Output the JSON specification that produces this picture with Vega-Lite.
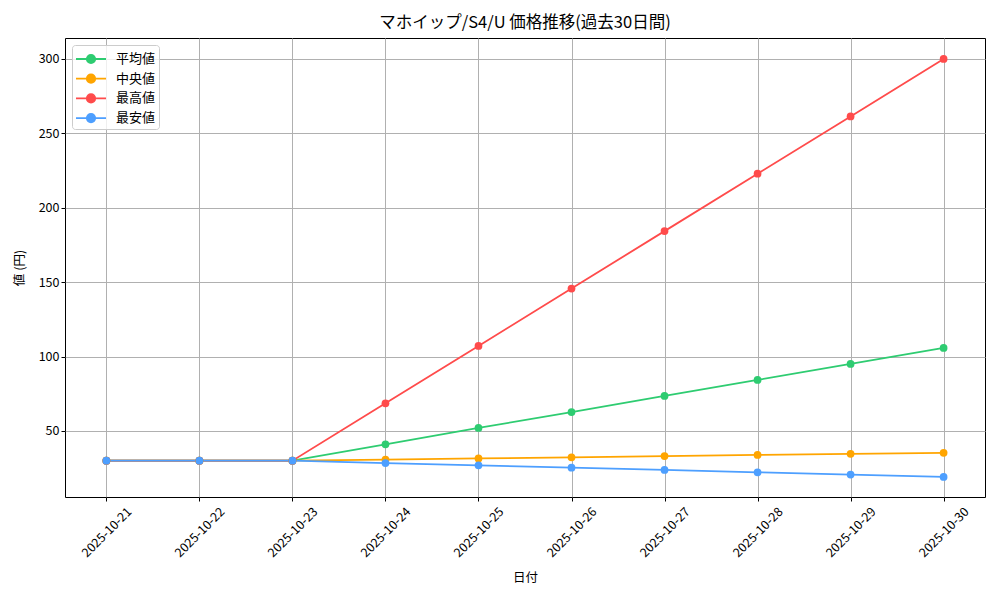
{
  "$schema": "https://vega.github.io/schema/vega-lite/v6.json",
  "width": 920,
  "height": 459,
  "autosize": "none",
  "padding": {"left": 65, "top": 38, "right": 15, "bottom": 103},
  "background": "white",
  "title": {
    "text": "マホイップ/S4/U 価格推移(過去30日間)",
    "font": "Noto Sans CJK JP",
    "fontSize": 16.5,
    "fontWeight": "normal",
    "color": "black",
    "offset": 7
  },
  "config": {
    "view": {"stroke": "black", "strokeWidth": 1},
    "axis": {
      "labelFont": "Noto Sans CJK JP",
      "titleFont": "Noto Sans CJK JP",
      "labelFontSize": 12.5,
      "titleFontSize": 12.5,
      "titleFontWeight": "normal",
      "labelColor": "black",
      "titleColor": "black",
      "gridColor": "#b0b0b0",
      "gridWidth": 1,
      "tickColor": "black",
      "tickSize": 4,
      "domain": false
    },
    "legend": {
      "labelFont": "Noto Sans CJK JP",
      "labelFontSize": 13
    }
  },
  "data": {
    "values": [
      {"date": "2025-10-21", "series": "平均値", "value": 30},
      {"date": "2025-10-22", "series": "平均値", "value": 30},
      {"date": "2025-10-23", "series": "平均値", "value": 30},
      {"date": "2025-10-24", "series": "平均値", "value": 41},
      {"date": "2025-10-25", "series": "平均値", "value": 52},
      {"date": "2025-10-26", "series": "平均値", "value": 62.7},
      {"date": "2025-10-27", "series": "平均値", "value": 73.5},
      {"date": "2025-10-28", "series": "平均値", "value": 84.3},
      {"date": "2025-10-29", "series": "平均値", "value": 95},
      {"date": "2025-10-30", "series": "平均値", "value": 105.8},
      {"date": "2025-10-21", "series": "中央値", "value": 30},
      {"date": "2025-10-22", "series": "中央値", "value": 30},
      {"date": "2025-10-23", "series": "中央値", "value": 30},
      {"date": "2025-10-24", "series": "中央値", "value": 30.7},
      {"date": "2025-10-25", "series": "中央値", "value": 31.5},
      {"date": "2025-10-26", "series": "中央値", "value": 32.3},
      {"date": "2025-10-27", "series": "中央値", "value": 33.1},
      {"date": "2025-10-28", "series": "中央値", "value": 33.9},
      {"date": "2025-10-29", "series": "中央値", "value": 34.6},
      {"date": "2025-10-30", "series": "中央値", "value": 35.3},
      {"date": "2025-10-21", "series": "最高値", "value": 30},
      {"date": "2025-10-22", "series": "最高値", "value": 30},
      {"date": "2025-10-23", "series": "最高値", "value": 30},
      {"date": "2025-10-24", "series": "最高値", "value": 68.6},
      {"date": "2025-10-25", "series": "最高値", "value": 107.1},
      {"date": "2025-10-26", "series": "最高値", "value": 145.7},
      {"date": "2025-10-27", "series": "最高値", "value": 184.3},
      {"date": "2025-10-28", "series": "最高値", "value": 222.9},
      {"date": "2025-10-29", "series": "最高値", "value": 261.4},
      {"date": "2025-10-30", "series": "最高値", "value": 300},
      {"date": "2025-10-21", "series": "最安値", "value": 30},
      {"date": "2025-10-22", "series": "最安値", "value": 30},
      {"date": "2025-10-23", "series": "最安値", "value": 30},
      {"date": "2025-10-24", "series": "最安値", "value": 28.4},
      {"date": "2025-10-25", "series": "最安値", "value": 26.9},
      {"date": "2025-10-26", "series": "最安値", "value": 25.3},
      {"date": "2025-10-27", "series": "最安値", "value": 23.8},
      {"date": "2025-10-28", "series": "最安値", "value": 22.2},
      {"date": "2025-10-29", "series": "最安値", "value": 20.7},
      {"date": "2025-10-30", "series": "最安値", "value": 19.1}
    ]
  },
  "mark": {
    "type": "line",
    "strokeWidth": 1.8,
    "point": {"filled": true, "size": 60, "opacity": 1}
  },
  "encoding": {
    "x": {
      "field": "date",
      "type": "ordinal",
      "scale": {"type": "point", "padding": 0.445},
      "title": "日付",
      "axis": {
        "grid": true,
        "labelAngle": -45,
        "labelAlign": "center",
        "labelBaseline": "middle",
        "labelPadding": 31,
        "titlePadding": 12
      }
    },
    "y": {
      "field": "value",
      "type": "quantitative",
      "scale": {"domain": [5.6, 314.1], "nice": false, "zero": false},
      "title": "値 (円)",
      "axis": {
        "values": [50, 100, 150, 200, 250, 300],
        "grid": true,
        "titlePadding": 12
      }
    },
    "color": {
      "field": "series",
      "type": "nominal",
      "sort": null,
      "scale": {
        "domain": ["平均値", "中央値", "最高値", "最安値"],
        "range": ["#2ecc71", "#ffa500", "#ff4b4b", "#4d9fff"]
      },
      "legend": {
        "title": null,
        "orient": "top-left",
        "offset": 7,
        "padding": 3,
        "fillColor": "rgba(255,255,255,0.8)",
        "strokeColor": "#cccccc",
        "cornerRadius": 3,
        "symbolType": "M-1,0H2M0.08,0A0.42,0.42,0,1,1,0.92,0A0.42,0.42,0,1,1,0.08,0",
        "symbolSize": 400,
        "symbolStrokeWidth": 1.8,
        "labelOffset": 19,
        "rowPadding": 0.7,
        "encode": {
          "symbols": {
            "update": {
              "fill": {"scale": "color", "field": "value"},
              "fillOpacity": {"value": 1}
            }
          }
        }
      }
    }
  }
}
